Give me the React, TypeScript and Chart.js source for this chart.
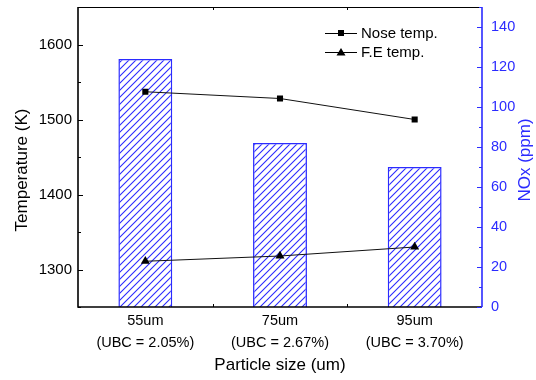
import { useEffect, useRef } from "react";
import { Chart, registerables } from "chart.js";

Chart.register(...registerables);

// Particle size categories and their UBC content
const sizes = ["55um", "75um", "95um"];
const ubcLabels = ["(UBC = 2.05%)", "(UBC = 2.67%)", "(UBC = 3.70%)"];

// NOx emission (ppm), right axis
const noxPpm = [124, 82, 70];

// Temperatures (K), left axis
const noseTemp = [1537, 1528, 1500];
const feTemp = [1311, 1318, 1330];

// Axis ticks
const tempTicks = [1300, 1400, 1500, 1600];
const noxTicks = [0, 20, 40, 60, 80, 100, 120, 140];

const seriesNames = ["Nose temp.", "F.E temp."];

const BLUE = "#2b2bff";
const FONT = "Arial, 'Liberation Sans', sans-serif";

function makeHatch(): CanvasPattern | string {
  const s = 7;
  const c = document.createElement("canvas");
  c.width = s;
  c.height = s;
  const g = c.getContext("2d");
  if (!g) return BLUE;
  g.fillStyle = "#ffffff";
  g.fillRect(0, 0, s, s);
  g.strokeStyle = BLUE;
  g.lineWidth = 1.1;
  g.beginPath();
  g.moveTo(0, s);
  g.lineTo(s, 0);
  g.moveTo(-1, 1);
  g.lineTo(1, -1);
  g.moveTo(s - 1, s + 1);
  g.lineTo(s + 1, s - 1);
  g.stroke();
  return g.createPattern(c, "repeat") || BLUE;
}

function midpoints(vals: number[], lo: number, hi: number): number[] {
  const out: number[] = [];
  for (let i = 0; i < vals.length - 1; i++) out.push((vals[i] + vals[i + 1]) / 2);
  const step = vals[1] - vals[0];
  const before = vals[0] - step / 2;
  const after = vals[vals.length - 1] + step / 2;
  if (before >= lo) out.push(before);
  if (after <= hi) out.push(after);
  return out;
}

// Frame, inward tick marks, vertical titles and the legend
const framePlugin = {
  id: "frame",
  afterDraw(chart: any) {
    const ctx = chart.ctx as CanvasRenderingContext2D;
    const { left, right, top, bottom } = chart.chartArea;
    const y = chart.scales.y;
    const y1 = chart.scales.y1;
    const x = chart.scales.x;
    ctx.save();

    // black frame: top, left, bottom
    ctx.strokeStyle = "#000";
    ctx.lineWidth = 1;
    ctx.beginPath();
    ctx.moveTo(left, top + 0.5);
    ctx.lineTo(right, top + 0.5);
    ctx.stroke();
    ctx.lineWidth = 1.6;
    ctx.beginPath();
    ctx.moveTo(left, top);
    ctx.lineTo(left, bottom);
    ctx.lineTo(right, bottom);
    ctx.stroke();

    // left ticks
    ctx.lineWidth = 1;
    ctx.beginPath();
    tempTicks.forEach((v) => {
      const p = Math.round(y.getPixelForValue(v)) + 0.5;
      ctx.moveTo(left, p);
      ctx.lineTo(left + 5, p);
    });
    midpoints(tempTicks, y.min, y.max).forEach((v) => {
      const p = Math.round(y.getPixelForValue(v)) + 0.5;
      ctx.moveTo(left, p);
      ctx.lineTo(left + 3, p);
    });
    // category boundary ticks on bottom and top
    for (let i = 0; i < sizes.length - 1; i++) {
      const px =
        Math.round((x.getPixelForValue(i) + x.getPixelForValue(i + 1)) / 2) + 0.5;
      ctx.moveTo(px, bottom);
      ctx.lineTo(px, bottom - 3);
      ctx.moveTo(px, top);
      ctx.lineTo(px, top + 3);
    }
    ctx.stroke();

    // blue right axis
    ctx.strokeStyle = BLUE;
    ctx.lineWidth = 1.6;
    ctx.beginPath();
    ctx.moveTo(right, top);
    ctx.lineTo(right, bottom);
    ctx.stroke();
    ctx.lineWidth = 1;
    ctx.beginPath();
    noxTicks.forEach((v) => {
      const p = Math.round(y1.getPixelForValue(v)) + 0.5;
      ctx.moveTo(right, p);
      ctx.lineTo(right - 5, p);
    });
    midpoints(noxTicks, y1.min, y1.max).forEach((v) => {
      const p = Math.round(y1.getPixelForValue(v)) + 0.5;
      ctx.moveTo(right, p);
      ctx.lineTo(right - 3, p);
    });
    ctx.stroke();

    // vertical axis titles
    ctx.textAlign = "center";
    ctx.textBaseline = "middle";
    ctx.font = `17px ${FONT}`;
    ctx.fillStyle = "#000";
    ctx.save();
    ctx.translate(22, 170);
    ctx.rotate(-Math.PI / 2);
    ctx.fillText("Temperature (K)", 0, 0);
    ctx.restore();
    ctx.fillStyle = BLUE;
    ctx.save();
    ctx.translate(525, 160);
    ctx.rotate(-Math.PI / 2);
    ctx.fillText("NOx (ppm)", 0, 0);
    ctx.restore();

    // legend
    const lx = right - 157;
    const rows = [33, 52];
    ctx.strokeStyle = "#000";
    ctx.fillStyle = "#000";
    ctx.lineWidth = 1;
    ctx.font = `15px ${FONT}`;
    ctx.textAlign = "left";
    rows.forEach((ry, i) => {
      ctx.beginPath();
      ctx.moveTo(lx, ry + 0.5);
      ctx.lineTo(lx + 32, ry + 0.5);
      ctx.stroke();
      const cx = lx + 16;
      ctx.beginPath();
      if (i === 0) {
        ctx.rect(cx - 3, ry - 3, 6, 6);
      } else {
        ctx.moveTo(cx, ry - 4);
        ctx.lineTo(cx + 4.5, ry + 3.5);
        ctx.lineTo(cx - 4.5, ry + 3.5);
        ctx.closePath();
      }
      ctx.fill();
      ctx.fillText(seriesNames[i], lx + 36, ry + 1);
    });

    ctx.restore();
  },
};

export default function App() {
  const ref = useRef<HTMLCanvasElement | null>(null);

  useEffect(() => {
    document.body.style.margin = "0";
    const canvas = ref.current;
    if (!canvas) return;
    const hatch = makeHatch();

    const chart = new Chart(canvas, {
      type: "bar",
      data: {
        labels: sizes.map((s, i) => [s, ubcLabels[i]]),
        datasets: [
          {
            type: "line",
            label: seriesNames[0],
            data: noseTemp,
            yAxisID: "y",
            borderColor: "#111",
            borderWidth: 1,
            backgroundColor: "#000",
            pointStyle: "rect",
            pointRadius: 4.3,
            pointBorderWidth: 0,
            order: 1,
          },
          {
            type: "line",
            label: seriesNames[1],
            data: feTemp,
            yAxisID: "y",
            borderColor: "#111",
            borderWidth: 1,
            backgroundColor: "#000",
            pointStyle: "triangle",
            pointRadius: 5.2,
            pointBorderWidth: 0,
            order: 1,
          },
          {
            type: "bar",
            label: "NOx",
            data: noxPpm,
            yAxisID: "y1",
            backgroundColor: hatch as any,
            borderColor: BLUE,
            borderWidth: 1.5,
            barPercentage: 0.4,
            categoryPercentage: 1,
            order: 2,
          },
        ],
      },
      options: {
        responsive: false,
        animation: false,
        layout: { padding: { top: 7, left: 0, right: 0, bottom: 0 } },
        plugins: {
          legend: { display: false },
          tooltip: { enabled: false },
        },
        scales: {
          x: {
            offset: true,
            grid: { display: false, drawTicks: false },
            border: { display: false },
            ticks: {
              color: "#000",
              padding: 3,
              font: { family: FONT, size: 14.5, lineHeight: 1.52 },
              maxRotation: 0,
            },
            title: {
              display: true,
              text: "Particle size (um)",
              color: "#000",
              font: { family: FONT, size: 17 },
              padding: { top: 0, bottom: 4 },
            },
            afterFit(s: any) {
              s.height = 73;
              s.paddingLeft = 0;
              s.paddingRight = 0;
            },
          },
          y: {
            position: "left",
            min: 1250,
            max: 1650,
            grid: { display: false, drawTicks: false },
            border: { display: false },
            ticks: {
              color: "#000",
              padding: 6,
              font: { family: FONT, size: 15 },
              callback: (v: any) => String(v),
            },
            afterBuildTicks(s: any) {
              s.ticks = tempTicks.map((v) => ({ value: v }));
            },
            afterFit(s: any) {
              s.width = 78;
              s.paddingTop = 0;
              s.paddingBottom = 0;
            },
          },
          y1: {
            position: "right",
            min: 0,
            max: 150,
            grid: { display: false, drawTicks: false },
            border: { display: false },
            ticks: {
              color: BLUE,
              padding: 9,
              font: { family: FONT, size: 14.5 },
              callback: (v: any) => String(v),
            },
            afterBuildTicks(s: any) {
              s.ticks = noxTicks.map((v) => ({ value: v }));
            },
            afterFit(s: any) {
              s.width = 54;
              s.paddingTop = 0;
              s.paddingBottom = 0;
            },
          },
        },
      },
      plugins: [framePlugin],
    });

    return () => chart.destroy();
  }, []);

  return (
    <div style={{ width: 536, height: 380, background: "#fff" }}>
      <canvas ref={ref} width={536} height={380} />
    </div>
  );
}
